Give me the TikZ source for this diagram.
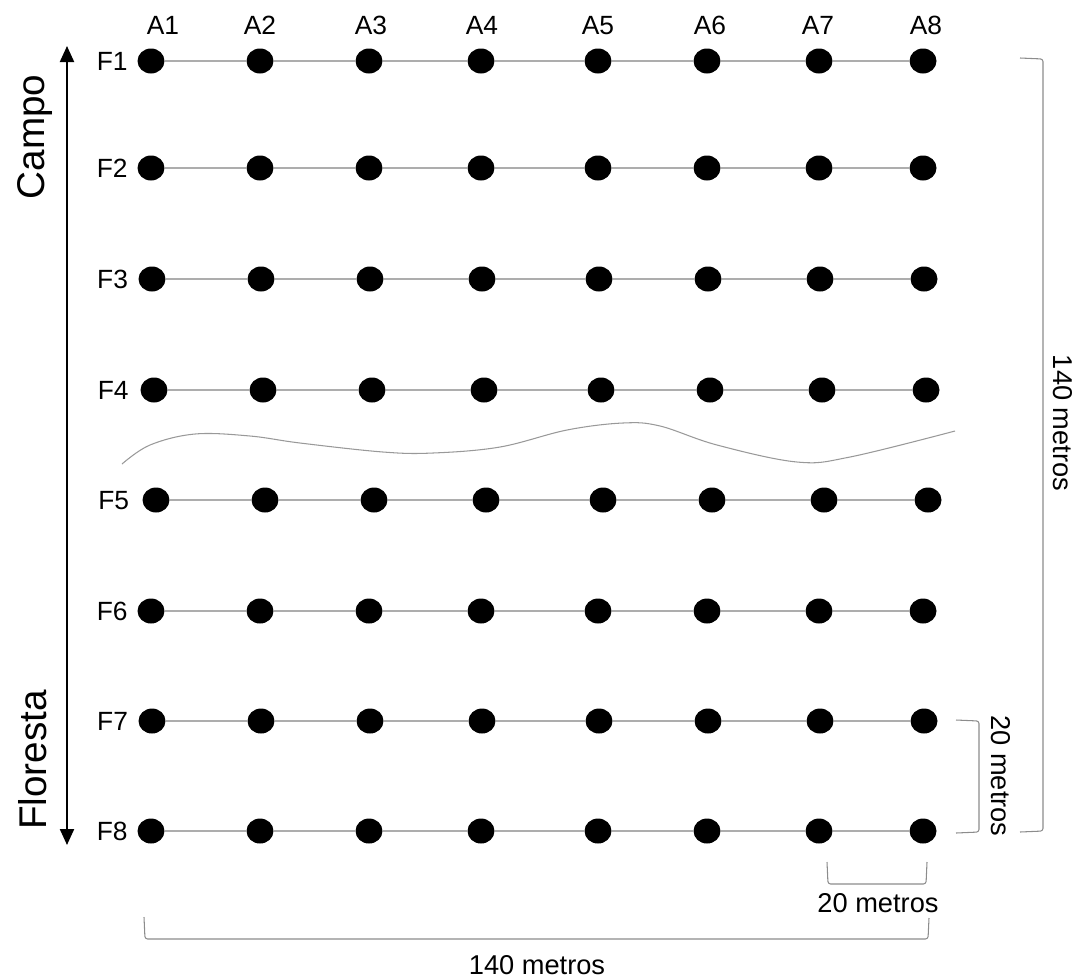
\documentclass[tikz,border=0pt]{standalone}
\usepackage{fontspec}
\setmainfont{Liberation Sans}
\usetikzlibrary{arrows.meta,shapes.geometric}
\tikzset{
  dot/.style={ellipse,fill=black,draw=none,minimum width=0.54cm,minimum height=0.5cm,inner sep=0pt},
  rowline/.style={draw=black!32,line width=0.6pt},
  lab/.style={font=\fontsize{15}{17}\selectfont,inner sep=0pt},
  mlab/.style={font=\fontsize{15.5}{18}\selectfont,inner sep=0pt},
  biglab/.style={font=\fontsize{22}{26}\selectfont,inner sep=0pt,rotate=90},
  bracket/.style={draw=black!45,line width=0.6pt,rounded corners=1.5pt},
  wave/.style={draw=black!40,line width=0.6pt},
  mainarrow/.style={line width=1.2pt,{Triangle[width=0.28cm,length=0.32cm]}-{Triangle[width=0.28cm,length=0.32cm]}}
}
\begin{document}
\begin{tikzpicture}[x=0.02cm,y=-0.02cm]
\useasboundingbox (0,0) rectangle (1077,978);
% column labels
\foreach \c/\x in {1/163,2/260,3/371,4/482,5/598,6/710,7/818,8/926}
  \node[lab,anchor=base] (a\c) at (\x,34) {A\c};
% rows of dots
\foreach \r/\y/\o in {1/61/0,2/168/0,3/279/1,4/390/3,5/500/5,6/611/0,7/721/1,8/831/0} {
  \foreach \c/\x in {1/151,2/260,3/369,4/481,5/598,6/707,7/819,8/923}
    \node[dot] (d\r-\c) at (\x+\o,\y) {};
  \foreach \c [count=\n from 2] in {1,...,7}
    \draw[rowline] (d\r-\c) -- (d\r-\n);
  \node[lab,anchor=base east] (f\r) at (128+\o*0.3,\y+9) {F\r};
}
% main arrow
\coordinate (atop) at (67,46);
\coordinate (abot) at (67,845);
\draw[mainarrow] (atop) -- (abot);
\node[biglab] (campo) at (35,137) {Campo};
\node[biglab] (floresta) at (33,760) {Floresta};
% boundary wave
\draw[wave] plot[smooth,tension=0.6] coordinates {(122,464) (150,445) (195,434) (250,436) (300,443) (383,452) (433,453) (500,447) (567,430) (623,423) (660,426) (717,445) (797,462) (850,457) (955,431)};
% right big bracket
\coordinate (rb1) at (1020,58);
\coordinate (rb2) at (1043,59);
\coordinate (rb3) at (1043,831);
\coordinate (rb4) at (1020,832);
\draw[bracket] (rb1) -- (rb2) -- (rb3) -- (rb4);
\node[mlab,rotate=-90] (l140r) at (1063,423) {140 metros};
% right small bracket
\coordinate (rs1) at (956,720);
\coordinate (rs2) at (979,721);
\coordinate (rs3) at (979,832);
\coordinate (rs4) at (956,833);
\draw[bracket] (rs1) -- (rs2) -- (rs3) -- (rs4);
\node[mlab,rotate=-90] (l20r) at (1001,776) {20 metros};
% bottom small bracket
\coordinate (bs1) at (827,862);
\coordinate (bs2) at (828,884);
\coordinate (bs3) at (926,884);
\coordinate (bs4) at (927,862);
\draw[bracket] (bs1) -- (bs2) -- (bs3) -- (bs4);
\node[mlab] (l20b) at (878,903) {20 metros};
% bottom big bracket
\coordinate (bb1) at (144,917);
\coordinate (bb2) at (145,939);
\coordinate (bb3) at (928,939);
\coordinate (bb4) at (929,918);
\draw[bracket] (bb1) -- (bb2) -- (bb3) -- (bb4);
\node[mlab] (l140b) at (537,965) {140 metros};
\end{tikzpicture}
\end{document}
